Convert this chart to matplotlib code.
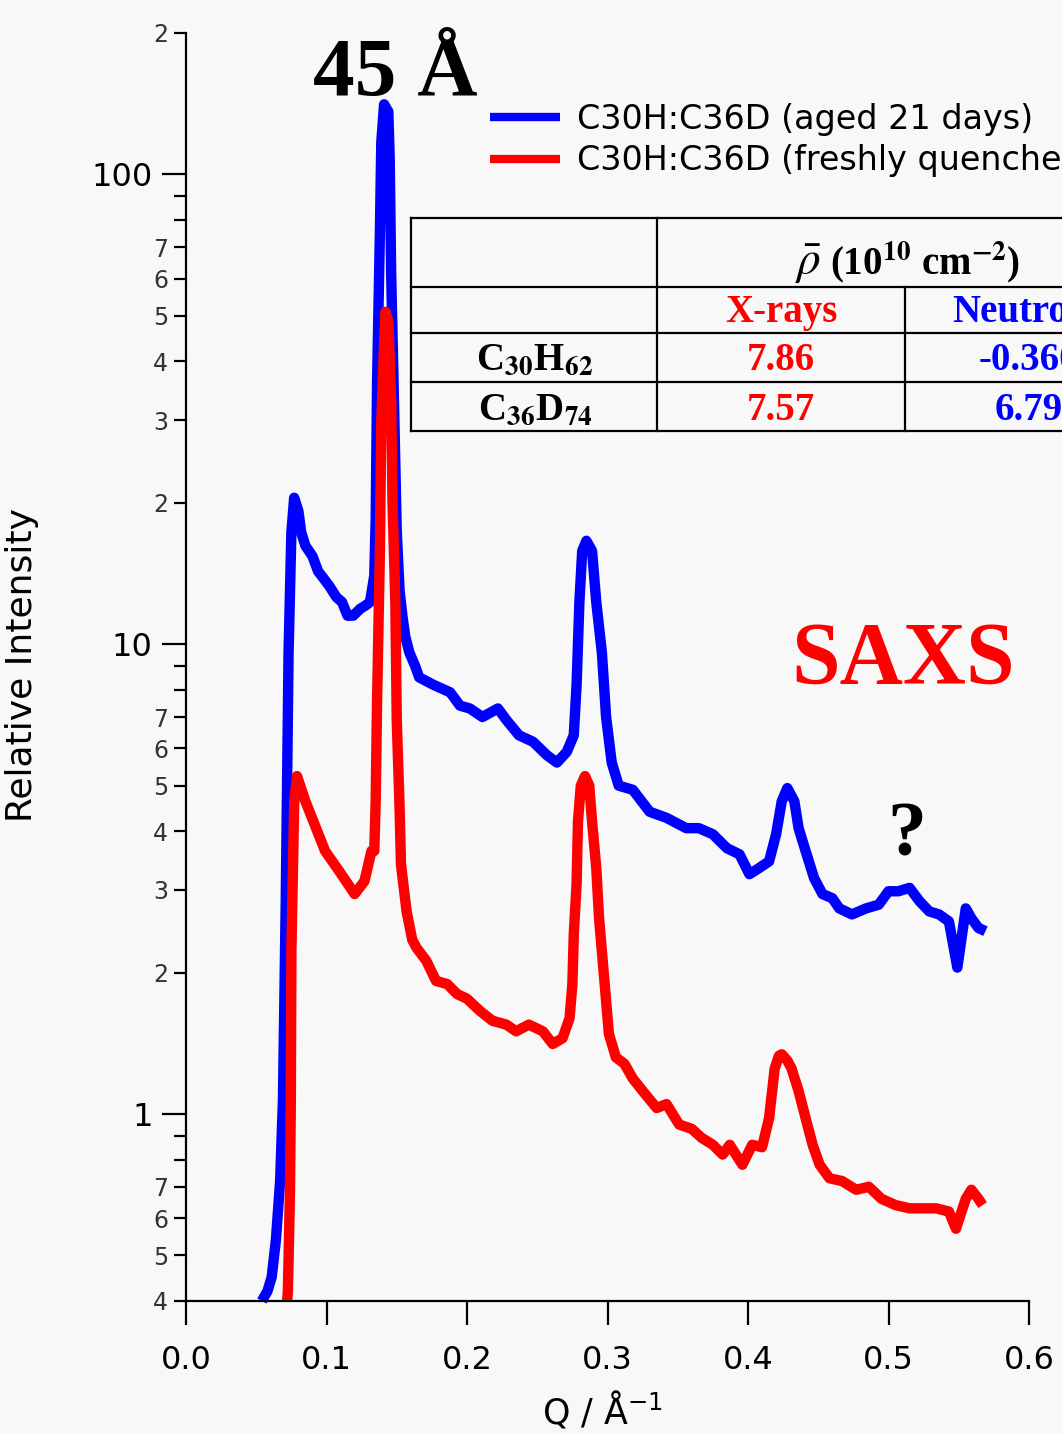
import math
import matplotlib
matplotlib.use("Agg")
import matplotlib.pyplot as plt
from matplotlib.lines import Line2D
from matplotlib.ticker import FixedLocator, FuncFormatter, NullLocator

# aged 21 days (blue)
q_aged = [0.054, 0.058, 0.061, 0.064, 0.067, 0.069, 0.071, 0.073, 0.075, 0.077,
          0.080, 0.082, 0.085, 0.090, 0.094, 0.098, 0.102, 0.107, 0.111, 0.115,
          0.119, 0.124, 0.128, 0.131, 0.134, 0.135, 0.136, 0.138, 0.139, 0.141,
          0.144, 0.145, 0.146, 0.148, 0.150, 0.152, 0.154, 0.156, 0.159, 0.163,
          0.166, 0.176, 0.188, 0.195, 0.202, 0.211, 0.222, 0.228, 0.237, 0.247,
          0.257, 0.264, 0.271, 0.276, 0.278, 0.280, 0.282, 0.285, 0.289, 0.292,
          0.296, 0.299, 0.303, 0.308, 0.318, 0.330, 0.342, 0.356, 0.365, 0.375,
          0.385, 0.394, 0.401, 0.408, 0.415, 0.420, 0.424, 0.428, 0.433, 0.436,
          0.441, 0.447, 0.453, 0.460, 0.465, 0.474, 0.484, 0.493, 0.500, 0.507,
          0.515, 0.522, 0.529, 0.536, 0.543, 0.549, 0.555, 0.559, 0.564, 0.569]
i_aged = [0.40, 0.42, 0.45, 0.54, 0.72, 1.07, 2.84, 9.6, 17.3, 20.5,
          19.2, 17.3, 16.2, 15.4, 14.3, 13.8, 13.3, 12.6, 12.3, 11.5,
          11.5, 11.9, 12.1, 12.3, 14.0, 18.3, 36.0, 75.0, 117.0, 141.0,
          136.0, 107.0, 62.0, 33.0, 17.3, 13.0, 11.5, 10.4, 9.6, 9.0,
          8.5, 8.2, 7.9, 7.4, 7.3, 7.0, 7.3, 6.9, 6.4, 6.2,
          5.8, 5.6, 5.9, 6.4, 8.2, 12.3, 15.8, 16.6, 15.8, 12.3,
          9.6, 7.0, 5.6, 5.0, 4.9, 4.4, 4.27, 4.06, 4.06, 3.94,
          3.68, 3.57, 3.24, 3.34, 3.45, 3.94, 4.63, 4.94, 4.63, 4.06,
          3.63, 3.18, 2.94, 2.88, 2.74, 2.66, 2.74, 2.79, 2.98, 2.98,
          3.03, 2.84, 2.70, 2.66, 2.57, 2.05, 2.74, 2.61, 2.49, 2.45]

# freshly quenched (red)
q_fresh = [0.072, 0.0725, 0.073, 0.074, 0.0746, 0.075, 0.077, 0.079, 0.085, 0.092,
           0.099, 0.109, 0.120, 0.127, 0.132, 0.134, 0.135, 0.136, 0.138, 0.139,
           0.141, 0.142, 0.144, 0.146, 0.147, 0.149, 0.150, 0.152, 0.153, 0.157,
           0.161, 0.164, 0.171, 0.178, 0.186, 0.193, 0.200, 0.209, 0.218, 0.228,
           0.235, 0.244, 0.254, 0.261, 0.268, 0.273, 0.275, 0.276, 0.278, 0.279,
           0.281, 0.284, 0.287, 0.289, 0.292, 0.294, 0.298, 0.301, 0.306, 0.312,
           0.318, 0.325, 0.335, 0.342, 0.351, 0.360, 0.367, 0.375, 0.382, 0.387,
           0.396, 0.403, 0.410, 0.415, 0.419, 0.422, 0.424, 0.428, 0.431, 0.436,
           0.441, 0.446, 0.451, 0.458, 0.467, 0.477, 0.486, 0.495, 0.505, 0.515,
           0.524, 0.534, 0.543, 0.548, 0.552, 0.555, 0.559, 0.564, 0.567]
i_fresh = [0.40, 0.42, 0.49, 0.69, 1.07, 2.22, 4.6, 5.24, 4.63, 4.1,
           3.63, 3.29, 2.94, 3.13, 3.63, 3.63, 4.63, 7.6, 15.8, 29.8,
           44.0, 51.0, 48.7, 33.0, 20.0, 12.3, 6.9, 4.5, 3.4, 2.7,
           2.35, 2.26, 2.12, 1.92, 1.89, 1.80, 1.76, 1.66, 1.58, 1.55,
           1.50, 1.55, 1.50, 1.41, 1.45, 1.60, 1.89, 2.41, 3.09, 4.2,
           5.0, 5.24, 5.0, 4.2, 3.34, 2.61, 1.89, 1.48, 1.32, 1.28,
           1.19, 1.12, 1.03, 1.05, 0.95, 0.93, 0.89, 0.86, 0.82, 0.86,
           0.78, 0.86, 0.85, 0.98, 1.25, 1.33, 1.34, 1.30, 1.25, 1.12,
           0.98, 0.86, 0.78, 0.73, 0.72, 0.69, 0.70, 0.66, 0.64, 0.63,
           0.63, 0.63, 0.62, 0.57, 0.62, 0.66, 0.69, 0.66, 0.64]

labels = ["C30H:C36D (aged 21 days)", "C30H:C36D (freshly quenched)"]

x_ticks = [0.0, 0.1, 0.2, 0.3, 0.4, 0.5, 0.6]
y_major = [1, 10, 100]
y_minor = [0.4, 0.5, 0.6, 0.7, 0.8, 0.9, 2, 3, 4, 5, 6, 7, 8, 9,
           20, 30, 40, 50, 60, 70, 80, 90, 200]

# table contents
tab_rows = [r"C$_{\mathbf{30}}$H$_{\mathbf{62}}$", r"C$_{\mathbf{36}}$D$_{\mathbf{74}}$"]
tab_xray = ["7.86", "7.57"]
tab_neut = ["-0.360", "6.79"]

W, H = 1062, 1434
BG = "#f8f8f8"
BLUE = "#0000ff"
RED = "#ff0000"


def px(x, y):
    return x / W, 1 - y / H


fig = plt.figure(figsize=(W / 100, H / 100), dpi=100, facecolor=BG)
ax = fig.add_axes([186 / W, 1 - 1301 / H, (1029 - 186) / W, (1301 - 33) / H])
ax.set_facecolor(BG)

ax.plot(q_aged, i_aged, color=BLUE, lw=7.5, solid_joinstyle="round",
        solid_capstyle="butt", clip_on=False, label=labels[0])
ax.plot(q_fresh, i_fresh, color=RED, lw=7.5, solid_joinstyle="round",
        solid_capstyle="butt", clip_on=False, label=labels[1])

ax.set_yscale("log")
ax.set_xlim(0, 0.6)
ax.set_ylim(0.4, 200)

ax.xaxis.set_major_locator(FixedLocator(x_ticks))
ax.xaxis.set_minor_locator(NullLocator())
ax.xaxis.set_major_formatter(FuncFormatter(lambda v, p: "%.1f" % v))
ax.yaxis.set_major_locator(FixedLocator(y_major))
ax.yaxis.set_minor_locator(FixedLocator(y_minor))
ax.yaxis.set_major_formatter(FuncFormatter(lambda v, p: "%d" % round(v)))


def minor_fmt(v, p):
    d = int(round(v / 10 ** math.floor(math.log10(v) + 1e-9)))
    return str(d) if d <= 7 else ""


ax.yaxis.set_minor_formatter(FuncFormatter(minor_fmt))

for s in ["top", "right"]:
    ax.spines[s].set_visible(False)
for s in ["left", "bottom"]:
    ax.spines[s].set_linewidth(1.6)

ax.tick_params(axis="y", which="major", length=17, width=1.6, labelsize=23, pad=7)
ax.tick_params(axis="y", which="minor", length=9, width=1.6, labelsize=17, pad=4,
               labelcolor="#333333")
ax.tick_params(axis="x", which="major", length=17, width=1.6, labelsize=23, pad=15)

fig.text(*px(22, 665), "Relative Intensity", rotation=90, ha="center", va="center",
         fontsize=26)
fig.text(*px(602, 1410), r"Q / Å$^{-1}$", ha="center", va="center", fontsize=25,
         math_fontfamily="dejavusans")

leg = ax.legend(loc="upper left", bbox_to_anchor=px(490, 103), bbox_transform=fig.transFigure,
                frameon=False, fontsize=24, handlelength=2.1, handletextpad=0.5,
                labelspacing=0.25, borderpad=0, borderaxespad=0)
for h in leg.get_lines():
    h.set_linewidth(6)

serif = "Liberation Serif"
fig.text(*px(313, 95), "45 Å", fontsize=60, fontweight="bold", family=serif,
         ha="left", va="baseline")
fig.text(*px(903, 683), "SAXS", fontsize=63, fontweight="bold", family=serif,
         color=RED, ha="center", va="baseline")
fig.text(*px(907, 855), "?", fontsize=56, fontweight="bold", family=serif,
         ha="center", va="baseline")

# table grid
ys = [218, 287, 333, 382, 431]
for y in ys:
    fig.add_artist(Line2D([411 / W, 1.05], [1 - y / H] * 2, color="black", lw=1.6,
                          transform=fig.transFigure))
for x, y0 in [(411, 218), (657, 218), (905, 287)]:
    fig.add_artist(Line2D([x / W] * 2, [1 - y0 / H, 1 - 431 / H], color="black", lw=1.6,
                          transform=fig.transFigure))

tkw = dict(family=serif, fontweight="bold", ha="center", va="baseline",
           math_fontfamily="stix")
fig.text(*px(808, 274), r"$\bar{\rho}$", fontsize=34, **tkw)
fig.text(*px(925, 274), r"(10$^{\mathbf{10}}$ cm$^{\mathbf{-2}}$)", fontsize=28, **tkw)
fig.text(*px(781, 322), "X-rays", fontsize=28, color=RED, **tkw)
fig.text(*px(1029, 322), "Neutrons", fontsize=28, color=BLUE, **tkw)
for k, yb in enumerate([370, 420]):
    fig.text(*px(535, yb), tab_rows[k], fontsize=28, **tkw)
    fig.text(*px(781, yb), tab_xray[k], fontsize=28, color=RED, **tkw)
    fig.text(*px(1029, yb), tab_neut[k], fontsize=28, color=BLUE, **tkw)

fig.savefig("out.png", dpi=100, facecolor=BG)
